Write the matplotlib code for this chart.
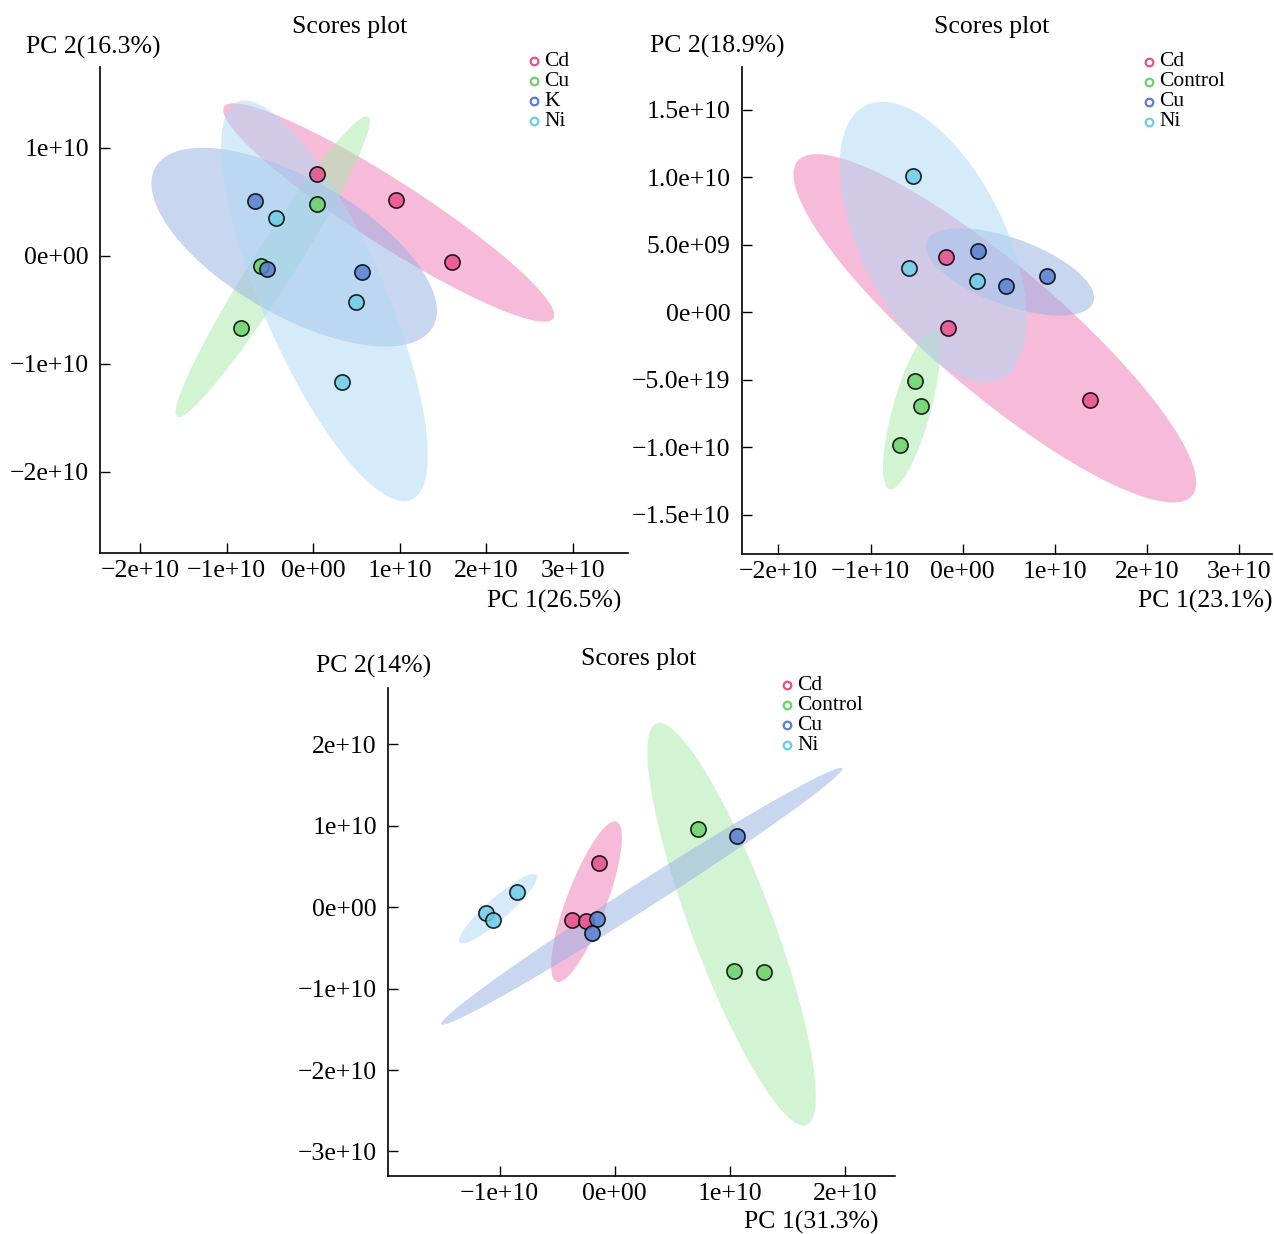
import numpy as np
import matplotlib
matplotlib.use("Agg")
import matplotlib.pyplot as plt
from matplotlib.patches import Polygon
from matplotlib.lines import Line2D

plt.rcParams['font.family'] = ['Liberation Serif', 'DejaVu Serif']

W, H = 1274, 1234
E = 1e10

# ---------------- data (units of 1e10) ----------------
# Panel A
A_groups = ["Cd", "Cu", "K", "Ni"]
A_x = {"Cd": [0.04, 0.96, 1.60], "Cu": [0.046, -0.60, -0.84],
       "K": [-0.67, -0.53, 0.56], "Ni": [-0.43, 0.49, 0.33]}
A_y = {"Cd": [0.76, 0.52, -0.055], "Cu": [0.48, -0.10, -0.67],
       "K": [0.51, -0.12, -0.15], "Ni": [0.345, -0.43, -1.17]}
# ellipse: centre x, centre y, major-tip x, major-tip y, minor/major ratio
A_ell = {"Cd": [0.871, 0.400, 2.772, -0.580, 0.164],
         "Cu": [-0.468, -0.102, 0.635, 1.287, 0.118],
         "K": [-0.221, 0.079, 1.380, -0.662, 0.425],
         "Ni": [0.129, -0.419, 1.133, -2.260, 0.281]}
A_xticks = [-2, -1, 0, 1, 2, 3]
A_xlabels = ["\u22122e+10", "\u22121e+10", "0e+00", "1e+10", "2e+10", "3e+10"]
A_yticks = [-2, -1, 0, 1]
A_ylabels = ["\u22122e+10", "\u22121e+10", "0e+00", "1e+10"]

# Panel B
B_groups = ["Cd", "Control", "Cu", "Ni"]
B_x = {"Cd": [-0.176, -0.161, 1.380], "Control": [-0.515, -0.447, -0.681],
       "Cu": [0.165, 0.472, 0.913], "Ni": [-0.540, -0.584, 0.157]}
B_y = {"Cd": [0.409, -0.113, -0.647], "Control": [-0.507, -0.695, -0.985],
       "Cu": [0.450, 0.197, 0.266], "Ni": [1.010, 0.330, 0.229]}
B_ell = {"Cd": [0.349, -0.119, 2.489, -1.358, 0.245],
         "Control": [-0.555, -0.725, -0.317, -0.140, 0.231],
         "Cu": [0.513, 0.299, 1.418, 0.074, 0.376],
         "Ni": [-0.320, 0.521, 0.411, -0.490, 0.475]}
B_xticks = [-2, -1, 0, 1, 2, 3]
B_xlabels = ["\u22122e+10", "\u22121e+10", "0e+00", "1e+10", "2e+10", "3e+10"]
B_yticks = [-1.5, -1.0, -0.5, 0, 0.5, 1.0, 1.5]
B_ylabels = ["\u22121.5e+10", "\u22121.0e+10", "\u22125.0e+19", "0e+00",
             "5.0e+09", "1.0e+10", "1.5e+10"]

# Panel C
C_groups = ["Cd", "Control", "Cu", "Ni"]
C_x = {"Cd": [-0.137, -0.368, -0.246], "Control": [0.724, 1.035, 1.298],
       "Cu": [1.061, -0.154, -0.197], "Ni": [-0.852, -1.116, -1.061]}
C_y = {"Cd": [0.548, -0.156, -0.165], "Control": [0.966, -0.782, -0.791],
       "Cu": [0.880, -0.147, -0.312], "Ni": [0.184, -0.074, -0.155]}
C_ell = {"Cd": [-0.246, 0.069, 0.015, 1.052, 0.234],
         "Control": [1.015, -0.208, 0.363, 2.260, 0.191],
         "Cu": [0.235, 0.136, 1.977, 1.708, 0.055],
         "Ni": [-1.015, -0.018, -0.681, 0.397, 0.215]}
C_xticks = [-1, 0, 1, 2]
C_xlabels = ["\u22121e+10", "0e+00", "1e+10", "2e+10"]
C_yticks = [-3, -2, -1, 0, 1, 2]
C_ylabels = ["\u22123e+10", "\u22122e+10", "\u22121e+10", "0e+00", "1e+10", "2e+10"]

# colours by factor level order
PT_COLS = ["#E8508A", "#6BD16B", "#5A7FD0", "#6FCDE5"]
FILL_COLS = ["#EE78B4", "#A8EAA8", "#95AEE3", "#AFD8F5"]


def fx(px):
    return px / W


def fy(py):
    return 1 - py / H


fig = plt.figure(figsize=(W / 100, H / 100), dpi=100)


def make_axes(l, r, t, b):
    return fig.add_axes([fx(l), fy(b), fx(r) - fx(l), (b - t) / H])


def style(ax, xlim, ylim, xt, xl, yt, yl):
    ax.set_xlim(xlim[0] * E, xlim[1] * E)
    ax.set_ylim(ylim[0] * E, ylim[1] * E)
    ax.set_xticks(np.array(xt) * E)
    ax.set_xticklabels(xl)
    ax.set_yticks(np.array(yt) * E)
    ax.set_yticklabels(yl)
    for s in ["top", "right"]:
        ax.spines[s].set_visible(False)
    for s in ["left", "bottom"]:
        ax.spines[s].set_linewidth(1.2)
    ax.tick_params(axis="both", direction="in", length=7, width=1.0,
                   labelsize=18.5, colors="black")
    ax.tick_params(axis="y", pad=8)
    ax.tick_params(axis="x", pad=5)
    ax.set_facecolor("none")


def draw_ellipse(ax, par, color):
    cx, cy, tx, ty, ratio = par
    c = ax.transData.transform((cx * E, cy * E))
    t = ax.transData.transform((tx * E, ty * E))
    u = t - c
    v = np.array([-u[1], u[0]]) * ratio
    th = np.linspace(0, 2 * np.pi, 200)
    pts = c[None, :] + np.outer(np.cos(th), u) + np.outer(np.sin(th), v)
    dpts = ax.transData.inverted().transform(pts)
    ax.add_patch(Polygon(dpts, closed=True, facecolor=color, alpha=0.5,
                         edgecolor="none", zorder=1))


def panel(ax, groups, xs, ys, ells):
    for i, g in enumerate(groups):
        draw_ellipse(ax, ells[g], FILL_COLS[i])
    for i, g in enumerate(groups):
        ax.scatter(np.array(xs[g]) * E, np.array(ys[g]) * E, s=120,
                   color=PT_COLS[i], edgecolor="black", linewidth=1.2,
                   alpha=0.85, zorder=3)


def legend(groups, mx, y0):
    for i, g in enumerate(groups):
        yy = y0 + 20 * i
        fig.add_artist(Line2D([fx(mx)], [fy(yy)], marker="o", markersize=5.5,
                              markerfacecolor="white", markeredgecolor=PT_COLS[i],
                              markeredgewidth=1.6, transform=fig.transFigure))
        fig.text(fx(mx + 10), fy(yy), g, fontsize=15.5, va="center", ha="left")


def labels(title_x, title_y, ylab, yl_x, yl_y, xlab, xl_x, xl_y):
    fig.text(fx(title_x), fy(title_y), "Scores plot", fontsize=18.5,
             ha="center", va="center")
    fig.text(fx(yl_x), fy(yl_y), ylab, fontsize=18.5, ha="left", va="center")
    fig.text(fx(xl_x), fy(xl_y), xlab, fontsize=18.5, ha="right", va="center")


# Panel A
axA = make_axes(100, 628, 67, 553)
style(axA, (-2.463, 3.634), (-2.753, 1.747), A_xticks, A_xlabels, A_yticks, A_ylabels)
panel(axA, A_groups, A_x, A_y, A_ell)
legend(A_groups, 534, 61)
labels(350, 27, "PC 2(16.3%)", 26, 47, "PC 1(26.5%)", 621, 601)

# Panel B
axB = make_axes(741.5, 1272, 67, 554)
style(axB, (-2.40, 3.357), (-1.790, 1.816), B_xticks, B_xlabels, B_yticks, B_ylabels)
panel(axB, B_groups, B_x, B_y, B_ell)
legend(B_groups, 1149, 62)
labels(992, 27, "PC 2(18.9%)", 650, 46, "PC 1(23.1%)", 1272, 601)

# Panel C
axC = make_axes(388, 895, 688, 1176)
style(axC, (-1.971, 2.435), (-3.301, 2.694), C_xticks, C_xlabels, C_yticks, C_ylabels)
panel(axC, C_groups, C_x, C_y, C_ell)
legend(C_groups, 787, 685)
labels(639, 659, "PC 2(14%)", 316, 666, "PC 1(31.3%)", 878, 1222)

fig.savefig("out.png", dpi=100)
